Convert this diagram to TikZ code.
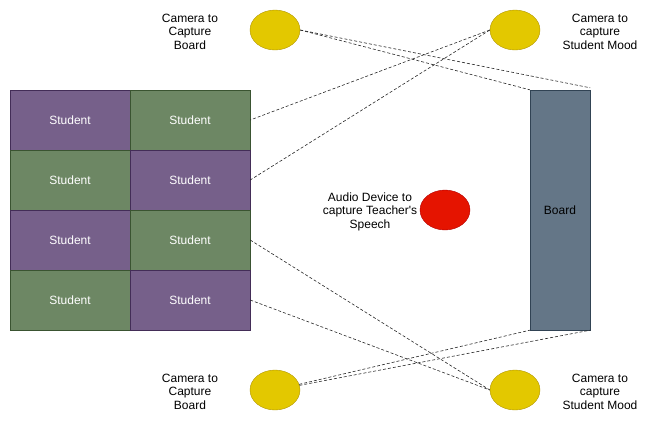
\documentclass[tikz,border=0pt]{standalone}
\usepackage{fontspec}
\setmainfont{Liberation Sans}
\usetikzlibrary{shapes.geometric}
\definecolor{purp}{HTML}{76608A}
\definecolor{purpb}{HTML}{432D57}
\definecolor{grn}{HTML}{6D8764}
\definecolor{grnb}{HTML}{3A5431}
\definecolor{brd}{HTML}{647687}
\definecolor{brdb}{HTML}{314354}
\definecolor{yel}{HTML}{E3C800}
\definecolor{yelb}{HTML}{B09500}
\definecolor{rd}{HTML}{E51400}
\definecolor{rdb}{HTML}{B20000}
\tikzset{
  cell/.style={rectangle, minimum width=120pt, minimum height=60pt, inner sep=0pt, text=white, font=\fontsize{12}{14}\selectfont, text depth=-1pt},
  pcell/.style={cell, fill=purp, draw=purpb},
  gcell/.style={cell, fill=grn, draw=grnb},
  cam/.style={ellipse, minimum width=50pt, minimum height=40pt, inner sep=0pt, fill=yel, draw=yelb},
  mic/.style={ellipse, minimum width=50pt, minimum height=40pt, inner sep=0pt, fill=rd, draw=rdb},
  lbl/.style={align=center, font=\fontsize{12}{13.6}\selectfont, inner sep=0pt},
  link/.style={densely dashed, line width=0.6pt, black!85}
}
\begin{document}
\begin{tikzpicture}[x=1pt, y=-1pt]
\useasboundingbox (0,0) rectangle (651,421);
\node[pcell] (s11) at (70,120) {Student};
\node[gcell] (s12) at (190,120) {Student};
\node[gcell] (s21) at (70,180) {Student};
\node[pcell] (s22) at (190,180) {Student};
\node[pcell] (s31) at (70,240) {Student};
\node[gcell] (s32) at (190,240) {Student};
\node[gcell] (s41) at (70,300) {Student};
\node[pcell] (s42) at (190,300) {Student};
\node[rectangle, minimum width=60pt, minimum height=240pt, inner sep=0pt, fill=brd, draw=brdb, font=\fontsize{12}{14}\selectfont, text depth=-1pt] (board) at (560,210) {Board};
\node[cam] (tl) at (275,30) {};
\node[cam] (tr) at (515,30) {};
\node[cam] (bl) at (275,390) {};
\node[cam] (br) at (515,390) {};
\node[mic] (audio) at (445,210) {};
\node[lbl] (ltl) at (190,31.5) {Camera to\\Capture\\Board};
\node[lbl] (ltr) at (600,31.5) {Camera to\\capture\\Student Mood};
\node[lbl] (lbl1) at (190,391.5) {Camera to\\Capture\\Board};
\node[lbl] (lbr) at (600,391.5) {Camera to\\capture\\Student Mood};
\node[lbl] (laud) at (370,211.5) {Audio Device to\\capture Teacher\textquotesingle s\\Speech};
\draw[link] (tl.east) -- (board.north west);
\draw[link] (tl.east) -- ([yshift=2pt]board.north east);
\draw[link] (tr.west) -- (s12.east);
\draw[link] (tr.west) -- (s22.east);
\draw[link] (s32.east) -- (br.west);
\draw[link] (s42.east) -- (br.west);
\draw[link] (bl) -- (board.south west);
\draw[link] (bl) -- (board.south east);
\end{tikzpicture}
\end{document}
